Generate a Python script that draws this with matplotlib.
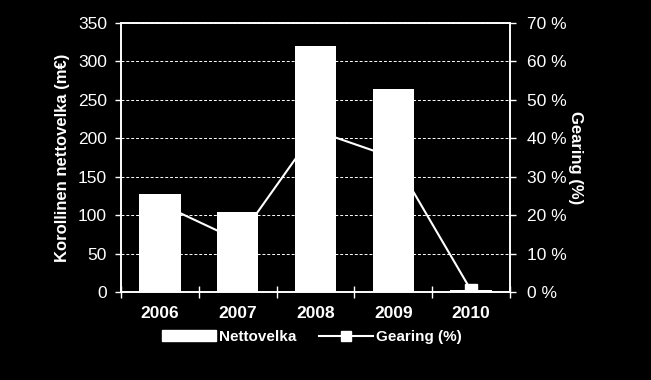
import matplotlib
matplotlib.use("Agg")
import matplotlib.pyplot as plt
from matplotlib.ticker import FuncFormatter
from matplotlib.lines import Line2D
from matplotlib.patches import Patch
import numpy as np

years = ["2006", "2007", "2008", "2009", "2010"]
nettovelka = [127, 104, 320, 264, 2]
gearing = [23.0, 13.5, 42.0, 35.0, 0.4]

plt.rcParams["font.family"] = ["Liberation Sans", "DejaVu Sans"]
fg = "white"

fig = plt.figure(figsize=(6.51, 3.8), dpi=100, facecolor="black")
ax = fig.add_axes([121/651, 1 - 292/380, (510 - 121)/651, (292 - 23)/380])
ax.set_facecolor("black")
x = np.arange(len(years))

ax.set_axisbelow(True)
ax.yaxis.grid(True, color=fg, linestyle=(0, (3, 2)), linewidth=0.7)
ax.bar(x, nettovelka, width=0.53, color=fg, zorder=2)
ax.set_ylim(0, 350)
ax.set_xlim(-0.5, len(years) - 0.5)
ax.set_yticks(range(0, 351, 50))
ax.set_xticks(x)
ax.set_xticklabels(years, fontweight="bold", fontsize=12.5)
ax.set_xticks(np.arange(-0.5, len(years), 1), minor=True)
ax.tick_params(axis="x", which="major", length=0, pad=10, colors=fg)
ax.tick_params(axis="x", which="minor", length=8, direction="inout", color=fg, width=1)
ax.tick_params(axis="y", colors=fg, labelsize=12.5, length=4, width=1, pad=6)
ax.set_ylabel("Korollinen nettovelka (m€)", color=fg, fontweight="bold", fontsize=12, labelpad=6)
for s in ax.spines.values():
    s.set_color(fg)
    s.set_linewidth(1.2)

ax2 = ax.twinx()
ax2.plot(x, gearing, color=fg, linewidth=1.5, marker="s", markersize=8, zorder=3)
ax2.set_ylim(0, 70)
ax2.set_yticks(range(0, 71, 10))
ax2.yaxis.set_major_formatter(FuncFormatter(lambda v, p: f"{int(v)} %"))
ax2.tick_params(axis="y", colors=fg, labelsize=12.5, length=4, width=1, pad=8)
ax2.set_ylabel("Gearing (%)", color=fg, fontweight="bold", fontsize=12, rotation=270,
               labelpad=1, va="bottom")
for s in ax2.spines.values():
    s.set_color(fg)
    s.set_linewidth(1.2)

handles = [
    Patch(facecolor=fg, edgecolor=fg),
    Line2D([0], [0], color=fg, linewidth=1.5, marker="s", markersize=7),
]
leg = fig.legend(handles, ["Nettovelka", "Gearing (%)"], loc="center",
                 bbox_to_anchor=(312/651, 1 - 337/380), ncol=2, frameon=False,
                 handlelength=3.5, handletextpad=0.2, columnspacing=1.5,
                 prop={"weight": "bold", "size": 11})
for t in leg.get_texts():
    t.set_color(fg)

fig.savefig("out.png", dpi=100, facecolor="black")
